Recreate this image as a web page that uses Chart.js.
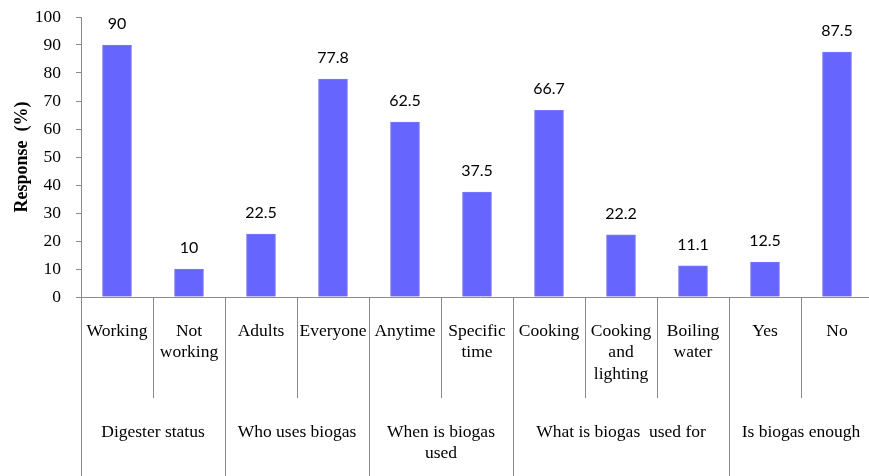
<!DOCTYPE html>
<html>
<head>
<meta charset="utf-8">
<script src="https://cdn.jsdelivr.net/npm/chart.js@4/dist/chart.umd.min.js"></script>
<style>
  html, body { margin: 0; padding: 0; background: #ffffff; }
  #wrap { width: 869px; height: 476px; overflow: hidden; position: relative; }
  canvas { display: block; }
</style>
</head>
<body>
<div id="wrap"><canvas id="chart" width="880" height="476"></canvas></div>
<script>
// Category labels (multi-line where they wrap)
const categories = [
  ["Working"], ["Not", "working"], ["Adults"], ["Everyone"], ["Anytime"],
  ["Specific", "time"], ["Cooking"], ["Cooking", "and", "lighting"],
  ["Boiling", "water"], ["Yes"], ["No"]
];
// Response percentages per category
const responses = [90, 10, 22.5, 77.8, 62.5, 37.5, 66.7, 22.2, 11.1, 12.5, 87.5];
// Question groups and how many categories each spans
const groupLabels = [
  ["Digester status"], ["Who uses biogas"], ["When is biogas", "used"],
  ["What is biogas  used for"], ["Is biogas enough"]
];
const groupSizes = [2, 2, 2, 3, 2];
// Value-axis ticks
const yTicks = [0, 10, 20, 30, 40, 50, 60, 70, 80, 90, 100];

const axisColor = '#8a8a8a';
const serif = '"Liberation Serif", "Times New Roman", serif';

const categoryAxisPlugin = {
  id: 'categoryAxis',
  afterDraw(chart) {
    const ctx = chart.ctx;
    const x = chart.scales.x;
    const area = chart.chartArea;
    const n = categories.length;
    const step = x.getPixelForValue(1) - x.getPixelForValue(0);
    const edge = i => x.getPixelForValue(i) - step / 2;
    const base = area.bottom;
    const innerBottom = base + 101;
    const fullBottom = chart.height;

    ctx.save();
    ctx.strokeStyle = axisColor;
    ctx.lineWidth = 1;
    // category axis line
    ctx.beginPath();
    ctx.moveTo(area.left, base + 0.5);
    ctx.lineTo(chart.width, base + 0.5);
    ctx.stroke();

    // separators: group boundaries run to the bottom, inner ones stop short
    const groupEdges = new Set([0]);
    let acc = 0;
    groupSizes.forEach(s => { acc += s; groupEdges.add(acc); });
    for (let i = 0; i <= n; i++) {
      const px = Math.round(edge(i)) + 0.5;
      ctx.beginPath();
      ctx.moveTo(px, base);
      ctx.lineTo(px, groupEdges.has(i) ? fullBottom : innerBottom);
      ctx.stroke();
    }

    // category labels
    ctx.fillStyle = '#000000';
    ctx.font = '17.5px ' + serif;
    ctx.textAlign = 'center';
    ctx.textBaseline = 'middle';
    categories.forEach((lines, i) => {
      const cx = x.getPixelForValue(i);
      lines.forEach((t, k) => ctx.fillText(t, cx, base + 34 + k * 21.5));
    });

    // group labels
    let start = 0;
    groupLabels.forEach((lines, g) => {
      const cx = (edge(start) + edge(start + groupSizes[g])) / 2;
      lines.forEach((t, k) => ctx.fillText(t, cx, base + 135 + k * 21.5));
      start += groupSizes[g];
    });

    // value labels above bars
    ctx.font = '16px Lato, "Open Sans", sans-serif';
    const meta = chart.getDatasetMeta(0);
    meta.data.forEach((bar, i) => {
      ctx.fillText(String(responses[i]), bar.x, bar.y - 21);
    });
    ctx.restore();
  }
};

new Chart(document.getElementById('chart'), {
  type: 'bar',
  data: {
    labels: categories.map(l => l.join(' ')),
    datasets: [{
      data: responses,
      backgroundColor: '#6666ff',
      borderColor: '#7a7aff',
      borderWidth: 1,
      barThickness: 29
    }]
  },
  options: {
    responsive: false,
    animation: false,
    devicePixelRatio: 1,
    layout: { padding: { top: 17, right: 7, bottom: 179, left: 0 } },
    plugins: { legend: { display: false }, tooltip: { enabled: false } },
    scales: {
      x: { display: false, offset: true },
      y: {
        min: 0,
        max: 100,
        afterBuildTicks(scale) { scale.ticks = yTicks.map(v => ({ value: v })); },
        afterFit(scale) {
          scale.width = 81;
          scale.paddingTop = 0;
          scale.paddingBottom = 0;
        },
        ticks: {
          color: '#000000',
          font: { family: serif, size: 17.5 },
          padding: 15
        },
        grid: {
          display: true,
          drawOnChartArea: false,
          drawTicks: true,
          tickLength: 5,
          color: axisColor
        },
        border: { display: true, color: axisColor, width: 1 },
        title: {
          display: true,
          text: 'Response  (%)',
          color: '#000000',
          font: { family: serif, size: 18, weight: 'bold' },
          padding: { top: 12, bottom: 0 }
        }
      }
    }
  },
  plugins: [categoryAxisPlugin]
});
</script>
</body>
</html>
